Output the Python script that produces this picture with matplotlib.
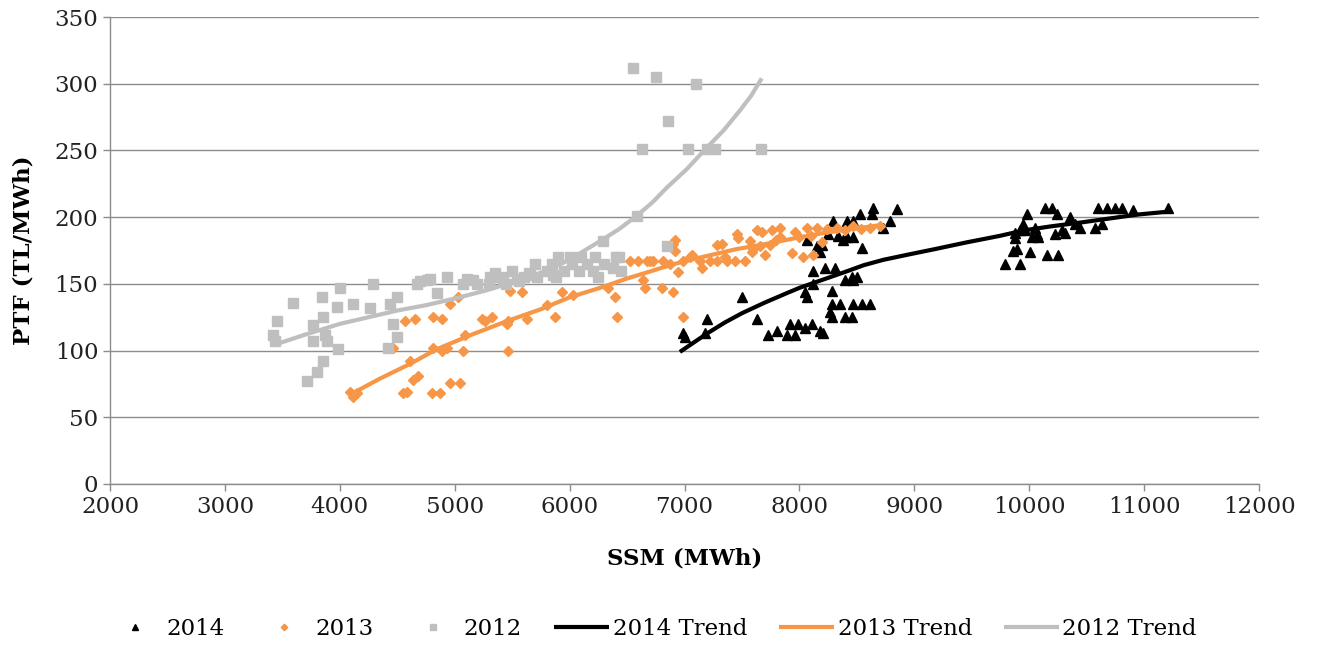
import matplotlib
matplotlib.use("Agg")
import matplotlib.pyplot as plt

plt.rcParams['font.family'] = ['DejaVu Serif', 'Liberation Serif']

# ---------------- data ----------------
x2012 = [3421, 3451, 3436, 3595, 3769, 3769, 3856, 3871, 3842, 4002,
         3973, 4118, 3987, 3856, 3799, 3712, 3886, 4292, 4263, 4466,
         4495, 4422, 4495, 4437, 4669, 4756, 4930, 4843, 5075, 5162,
         4698, 4785, 5104, 5191, 5307, 5423, 5540, 5655, 5858, 5300,
         5350, 5400, 5450, 5500, 5560, 5600, 5650, 5700, 5720, 5800,
         5850, 5880, 5900, 5950, 6000, 6020, 6080, 6100, 6150, 6200,
         6220, 6250, 6300, 6293, 6380, 6400, 6430, 6450, 6554, 6752,
         7097, 6853, 6627, 7027, 7193, 7265, 7666, 6584, 6845]
y2012 = [112, 122, 107, 136, 119, 107, 125, 112, 140, 147,
         133, 135, 101, 92, 84, 77, 107, 150, 132, 120,
         110, 102, 140, 135, 150, 153, 155, 143, 150, 153,
         152, 154, 154, 150, 155, 152, 154, 157, 157, 150,
         158, 155, 150, 160, 152, 155, 158, 165, 155, 160,
         165, 155, 170, 160, 170, 165, 160, 170, 165, 160,
         170, 155, 165, 182, 162, 170, 170, 160, 312, 305,
         300, 272, 251, 251, 251, 251, 251, 201, 178]

x2013 = [4089, 4118, 4147, 4553, 4582, 4800, 4872, 4640, 4680, 4959,
         5046, 4466, 4814, 4886, 4930, 5075, 4567, 4654, 4814, 4886,
         4959, 5031, 4611, 5090, 5235, 5264, 5322, 5481, 5583, 5467,
         5626, 5800, 5873, 5931, 5467, 5452, 6032, 6337, 6395, 6409,
         6526, 6598, 6671, 6728, 6815, 6641, 6656, 6801, 6903, 6917,
         6917, 6946, 6990, 7048, 6874, 6903, 6700, 6990, 7063, 7135,
         7222, 7280, 7323, 7280, 7367, 7439, 7526, 7454, 7469, 7570,
         7584, 7628, 7672, 7700, 7759, 7831, 7831, 7657, 7744, 7962,
         7933, 8034, 8121, 8063, 8150, 8237, 8324, 8400, 8469, 8540,
         8614, 8701, 8000, 8100, 8200, 7150, 7350, 7600, 7800]
y2013 = [69, 65, 68, 68, 69, 68, 68, 78, 81, 76,
         76, 102, 102, 100, 102, 100, 122, 124, 125, 124,
         135, 140, 92, 112, 124, 122, 125, 145, 144, 122,
         124, 134, 125, 144, 100, 120, 142, 147, 140, 125,
         167, 167, 167, 167, 167, 153, 147, 147, 144, 183,
         175, 159, 125, 170, 165, 180, 167, 167, 172, 167,
         167, 167, 180, 179, 167, 167, 167, 187, 184, 182,
         174, 190, 189, 172, 190, 192, 185, 178, 179, 189,
         173, 170, 172, 192, 192, 191, 192, 190, 193, 191,
         192, 193, 185, 186, 181, 162, 170, 176, 183]

x2014 = [6990, 7004, 7193, 7178, 7497, 7628, 7730, 7802, 7889, 7918,
         7991, 8107, 8049, 7962, 8208, 8179, 8063, 8049, 8121, 8121,
         8223, 8310, 8179, 8194, 8281, 8281, 8353, 8266, 8281, 8397,
         8455, 8469, 8542, 8614, 8397, 8455, 8469, 8499, 8411, 8382,
         8542, 8295, 8411, 8527, 8643, 8628, 8846, 8788, 8730, 8469,
         8252, 8339, 8469, 8150, 8063, 9789, 9920, 9862, 9890, 10006,
         10152, 10253, 9876, 10021, 10079, 10224, 10311, 10442, 10572, 9978,
         9949, 9920, 10050, 10137, 10195, 10239, 10355, 10398, 10282, 10601,
         10674, 10747, 10805, 10906, 11210, 10630, 10064, 9876, 9963]
y2014 = [113, 110, 124, 113, 140, 124, 112, 115, 112, 120,
         120, 120, 117, 112, 113, 115, 140, 144, 150, 160,
         162, 162, 174, 179, 145, 135, 135, 129, 125, 125,
         125, 135, 135, 135, 153, 155, 153, 155, 185, 183,
         177, 197, 197, 202, 207, 202, 206, 197, 192, 197,
         187, 186, 185, 178, 183, 165, 165, 175, 176, 174,
         172, 172, 184, 185, 185, 187, 188, 192, 192, 202,
         195, 190, 192, 207, 207, 202, 200, 195, 190, 207,
         207, 207, 207, 205, 207, 195, 187, 188, 190]

# trend lines
tx2014 = [6960, 7080, 7200, 7350, 7500, 7700, 7889, 8000, 8200, 8400, 8560, 8730, 8950,
          9177, 9450, 9746, 9950, 10181, 10450, 10700, 10950, 11196]
ty2014 = [99, 106, 113, 121, 128, 136, 143, 147, 153, 159, 164, 168, 172,
          176, 181, 186, 190, 193, 196, 199, 202, 204]
tx2013 = [4090, 4350, 4611, 4843, 5150, 5452, 5750, 6003, 6265, 6500, 6690, 6874, 7050, 7200,
          7450, 7715, 7950, 8200, 8450, 8701]
ty2013 = [67, 79, 90, 101, 112, 122, 131, 140, 147, 154, 159, 164, 168, 171,
          176, 180, 184, 188, 191, 194]
tx2012 = [3420, 3700, 4000, 4250, 4500, 4750, 5000, 5270, 5540, 5770, 6000, 6130, 6265, 6430,
          6584, 6720, 6845, 7020, 7193, 7340, 7483, 7580, 7672]
ty2012 = [104, 112, 120, 125, 130, 134, 139, 145, 152, 159, 168, 175, 182, 191,
          201, 211, 222, 236, 252, 265, 280, 291, 304]

x_ticks = list(range(2000, 12001, 1000))
y_ticks = list(range(0, 351, 50))

C14 = 'black'
C13 = '#F79646'
C12 = '#BFBFBF'

fig = plt.figure(figsize=(13.19, 6.45), dpi=100)
ax = fig.add_axes([110/1319, 1-484/645, 1149/1319, 467/645])

ms = 7
h14, = ax.plot(x2014, y2014, ls='none', marker='^', ms=ms, color=C14, label='2014', zorder=3)
h13, = ax.plot(x2013, y2013, ls='none', marker='D', ms=ms-1.5, color=C13, label='2013', zorder=3)
h12, = ax.plot(x2012, y2012, ls='none', marker='s', ms=ms, color=C12, label='2012', zorder=3)
t14, = ax.plot(tx2014, ty2014, color=C14, lw=3, label='2014 Trend', zorder=4, solid_capstyle='butt')
t13, = ax.plot(tx2013, ty2013, color=C13, lw=3, label='2013 Trend', zorder=4, solid_capstyle='butt')
t12, = ax.plot(tx2012, ty2012, color=C12, lw=3, label='2012 Trend', zorder=4, solid_capstyle='butt')

ax.set_xlim(2000, 12000)
ax.set_ylim(0, 350)
ax.set_xticks(x_ticks)
ax.set_yticks(y_ticks)
ax.yaxis.grid(True, color='#8C8C8C', lw=1)
ax.set_axisbelow(True)
for s in ['top', 'right']:
    ax.spines[s].set_visible(False)
for s in ['left', 'bottom']:
    ax.spines[s].set_color('#8C8C8C')
    ax.spines[s].set_linewidth(1)
ax.tick_params(axis='both', colors='#8C8C8C', labelcolor='#222222', labelsize=16.5, length=5, width=1, direction='out')

ax.set_xlabel('SSM (MWh)', fontsize=16.5, fontweight='bold')
ax.xaxis.set_label_coords(0.5, -0.135)
ax.set_ylabel('PTF (TL/MWh)', fontsize=16.5, fontweight='bold')
ax.yaxis.set_label_coords(-0.066, 0.5)

leg = ax.legend(handles=[h14, h13, h12, t14, t13, t12], ncol=6, loc='center',
                bbox_to_anchor=(0.472, -0.31), frameon=False, fontsize=16.5,
                markerscale=0.6, handlelength=2.4, handletextpad=0.15, columnspacing=1.4)

fig.savefig('out.png', dpi=100)
